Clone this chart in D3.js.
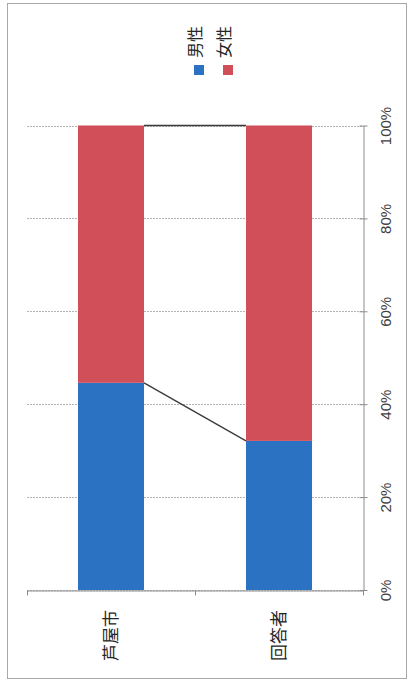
<!DOCTYPE html>
<html>
<head>
<meta charset="utf-8">
<script src="https://cdn.jsdelivr.net/npm/d3@7"></script>
<style>
  html, body { margin: 0; padding: 0; background: #fff; }
  svg { display: block; }
</style>
</head>
<body>
<div id="chart"></div>
<script>
// Gender composition: Ashiya city population vs. survey respondents (100% stacked)
const categories = ["芦屋市", "回答者"];
const seriesNames = ["男性", "女性"];
const maleShare = [44.6, 32.1];
const femaleShare = [55.4, 67.9];
const tickValues = [0, 20, 40, 60, 80, 100];
const seriesColors = ["#2b72c2", "#d04f58"];

const W = 408, H = 680;
const svg = d3.select("#chart").append("svg")
  .attr("width", W).attr("height", H);

svg.append("rect").attr("width", W).attr("height", H).attr("fill", "#fff");

// chart frame
svg.append("rect")
  .attr("x", 7.5).attr("y", 3.5)
  .attr("width", 399).attr("height", 675)
  .attr("fill", "none").attr("stroke", "#a8a8a8").attr("stroke-width", 1);

const plot = { left: 27, right: 363, top: 125.5, bottom: 590 };

const x = d3.scaleBand()
  .domain(categories)
  .range([plot.left, plot.right])
  .paddingInner(0.607)
  .paddingOuter(0.3035);

const y = d3.scaleLinear()
  .domain([0, 100])
  .range([plot.bottom, plot.top]);

const color = d3.scaleOrdinal().domain(seriesNames).range(seriesColors);

// gridlines
svg.append("g")
  .attr("class", "grid")
  .selectAll("line")
  .data(tickValues)
  .join("line")
  .attr("x1", plot.left).attr("x2", plot.right)
  .attr("y1", d => Math.round(y(d)) + 0.5).attr("y2", d => Math.round(y(d)) + 0.5)
  .attr("stroke", "#b4b4b4").attr("stroke-width", 1)
  .attr("stroke-dasharray", "2,1");

// stacked bars
const rows = categories.map((c, i) => ({ cat: c, "男性": maleShare[i], "女性": femaleShare[i] }));
const stacked = d3.stack().keys(seriesNames)(rows);

svg.append("g").selectAll("g")
  .data(stacked)
  .join("g")
  .attr("fill", d => color(d.key))
  .selectAll("rect")
  .data(d => d)
  .join("rect")
  .attr("x", d => x(d.data.cat))
  .attr("width", x.bandwidth())
  .attr("y", d => y(d[1]))
  .attr("height", d => y(d[0]) - y(d[1]));

// series lines joining segment tops between the two bars
svg.append("g").selectAll("line")
  .data(stacked)
  .join("line")
  .attr("x1", d => x(d[0].data.cat) + x.bandwidth())
  .attr("y1", d => y(d[0][1]))
  .attr("x2", d => x(d[1].data.cat))
  .attr("y2", d => y(d[1][1]))
  .attr("stroke", "#3a3a3a").attr("stroke-width", 1.3);

// value axis on the right
const yAxis = svg.append("g")
  .attr("transform", `translate(${plot.right + 0.5},0)`)
  .call(d3.axisRight(y).tickValues(tickValues).tickSize(4).tickSizeOuter(0)
    .tickFormat(d => d + "%"));
yAxis.select(".domain").attr("stroke", "#8c8c8c");
yAxis.selectAll(".tick line").attr("stroke", "#8c8c8c").attr("x1", -4);
yAxis.selectAll(".tick text")
  .attr("x", 0).attr("dy", null)
  .attr("transform", "translate(22,0) rotate(-90)")
  .attr("text-anchor", "middle")
  .attr("dominant-baseline", "central")
  .attr("fill", "#404040")
  .style("font-family", "'Liberation Sans', Arial, sans-serif")
  .style("font-size", "15px");

// category axis along the bottom
const xAxis = svg.append("g")
  .attr("transform", `translate(0,${plot.bottom + 0.5})`)
  .call(d3.axisBottom(x).tickSize(0).tickSizeOuter(0));
xAxis.select(".domain").attr("stroke", "#8c8c8c");
const boundaries = [plot.left, (x(categories[0]) + x.bandwidth() + x(categories[1])) / 2, plot.right];
xAxis.selectAll(".boundary")
  .data(boundaries)
  .join("line")
  .attr("class", "boundary")
  .attr("x1", d => Math.round(d) + 0.5).attr("x2", d => Math.round(d) + 0.5)
  .attr("y1", 0).attr("y2", 5)
  .attr("stroke", "#8c8c8c");
xAxis.selectAll(".tick text")
  .attr("y", 0).attr("dy", null)
  .attr("transform", "translate(-2,45) rotate(-90)")
  .attr("text-anchor", "middle")
  .attr("dominant-baseline", "central")
  .attr("fill", "#262626")
  .style("font-family", "'Noto Sans CJK JP', sans-serif")
  .style("font-size", "17px");

// legend
const legend = svg.append("g");
const legendX = [199, 228];
const legendItems = legend.selectAll("g")
  .data(seriesNames)
  .join("g")
  .attr("transform", (d, i) => `translate(${legendX[i]},0)`);
legendItems.append("rect")
  .attr("x", -5).attr("y", 65)
  .attr("width", 10).attr("height", 10)
  .attr("fill", d => color(d));
legendItems.append("text")
  .attr("transform", "translate(-5,58) rotate(-90)")
  .attr("text-anchor", "start")
  .attr("dominant-baseline", "central")
  .attr("fill", "#262626")
  .style("font-family", "'Noto Sans CJK JP', sans-serif")
  .style("font-size", "16px")
  .text(d => d);
</script>
</body>
</html>
